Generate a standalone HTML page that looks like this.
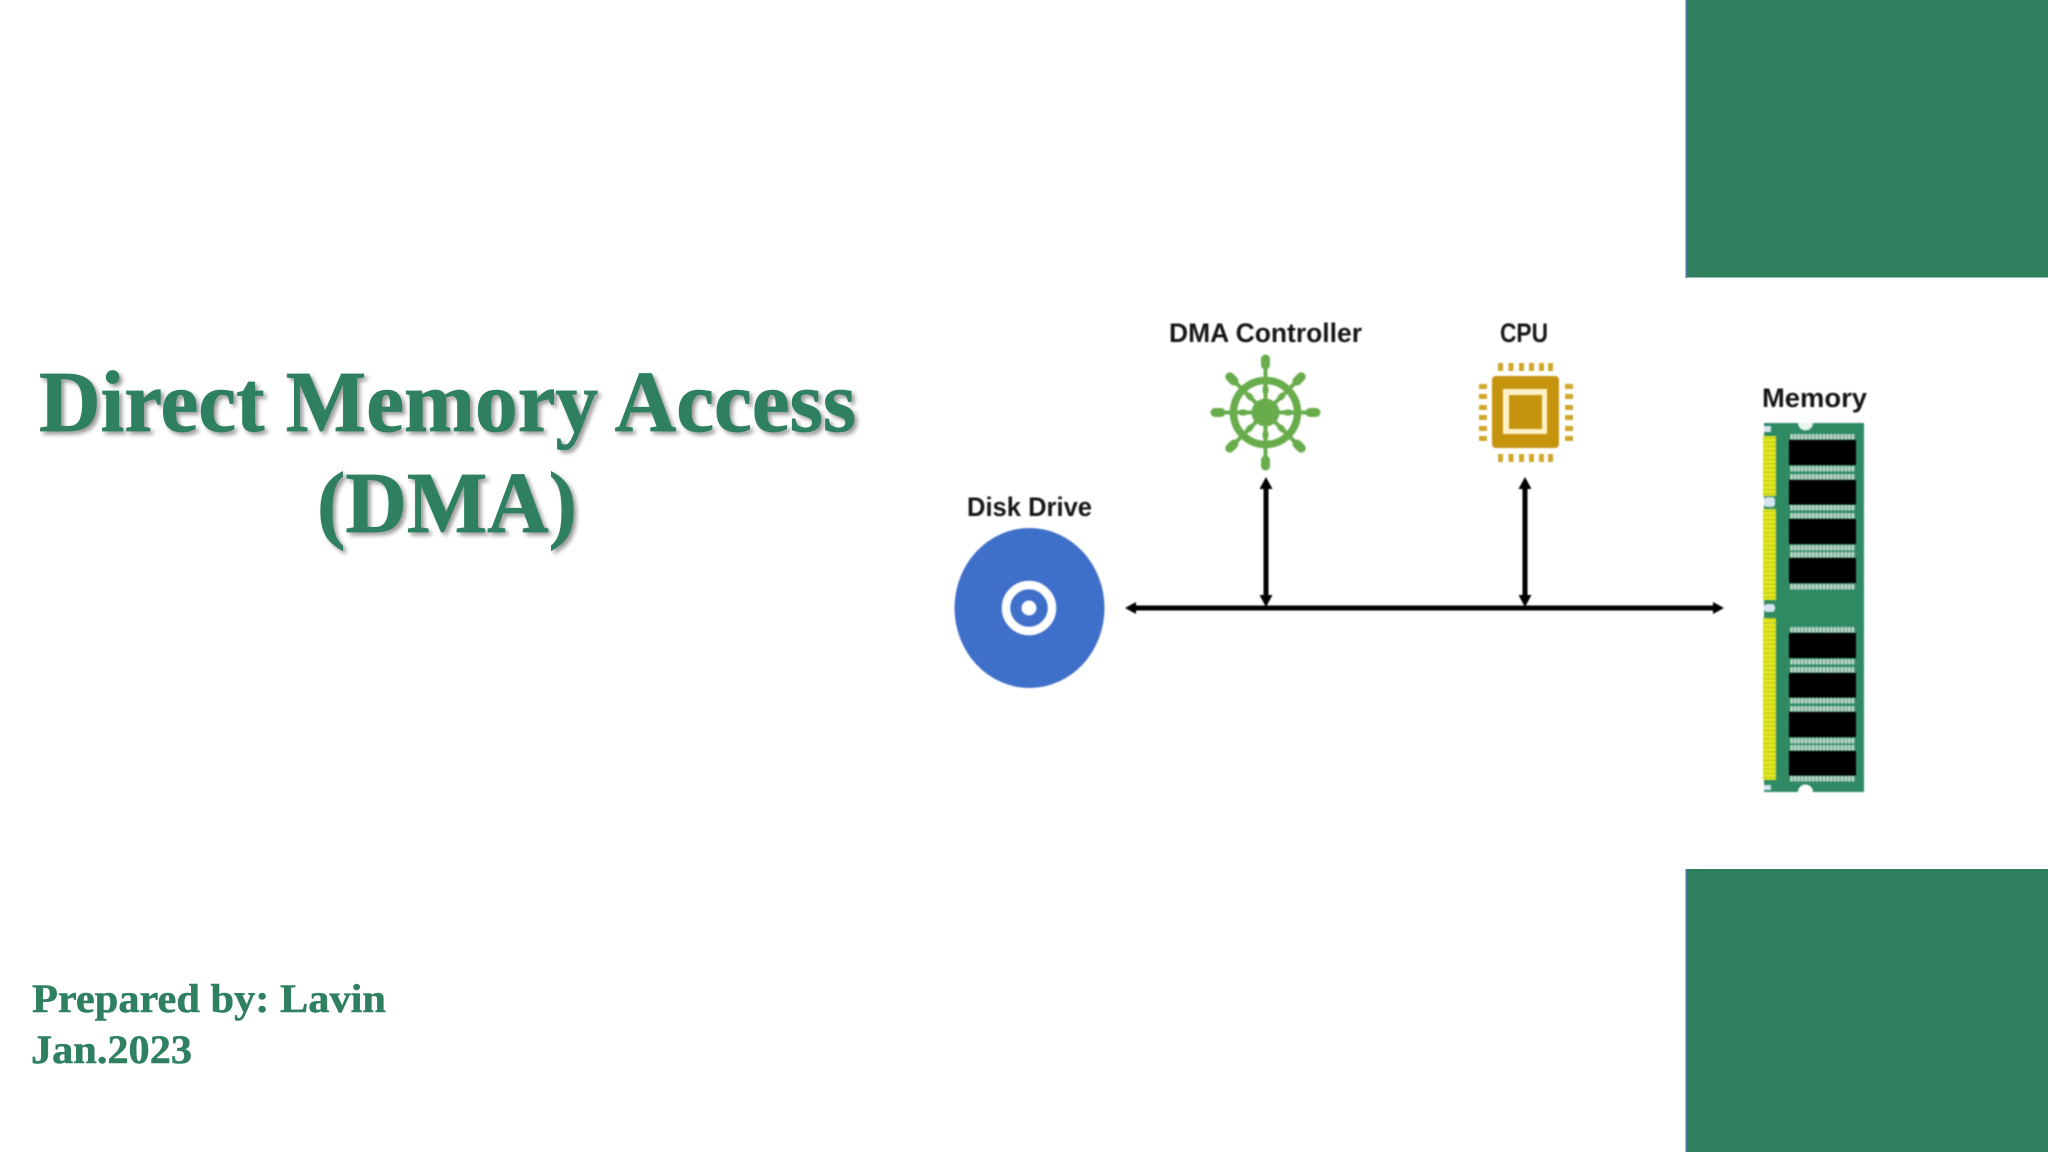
<!DOCTYPE html>
<html><head><meta charset="utf-8"><style>
html,body{margin:0;padding:0;background:#fff;width:2048px;height:1152px;overflow:hidden}
svg{display:block;position:absolute;left:0;top:0}
.t{font-family:"Liberation Serif",serif;font-weight:700;fill:#2e8061}
.b{stroke:#2e8061;stroke-width:.8px}
.l{font-family:"Liberation Sans",sans-serif;font-weight:700;fill:#161616;font-size:27px}
.shadow{filter:drop-shadow(3px 3px 2px rgba(0,0,0,.4))}
.soft{filter:blur(.7px)}
</style></head><body>
<svg width="2048" height="1152" viewBox="0 0 2048 1152" xmlns="http://www.w3.org/2000/svg">
<rect x="1686" y="0" width="362" height="277.5" fill="#2e8060"/>
<rect x="1686" y="869" width="362" height="283" fill="#2e8060"/>
<rect x="1685.5" y="0" width="1.5" height="278" fill="#4d7a99"/>
<rect x="1685.5" y="869" width="1.5" height="283" fill="#4d7a99"/>

<g class="shadow">
<text class="t b" x="39" y="431" font-size="87" textLength="817" lengthAdjust="spacingAndGlyphs">Direct Memory Access</text>
<text class="t b" x="317" y="532" font-size="87" textLength="260" lengthAdjust="spacingAndGlyphs">(DMA)</text>
</g>
<text class="t" x="32" y="1012" font-size="40" stroke="#2e8061" stroke-width=".5" textLength="354" lengthAdjust="spacingAndGlyphs">Prepared by: Lavin</text>
<text class="t" x="31" y="1063" font-size="40" stroke="#2e8061" stroke-width=".5" textLength="161" lengthAdjust="spacingAndGlyphs">Jan.2023</text>

<g class="soft">
<text class="l" x="1169" y="342" textLength="193" lengthAdjust="spacingAndGlyphs">DMA Controller</text>
<text class="l" x="1500" y="342" textLength="48" lengthAdjust="spacingAndGlyphs">CPU</text>
<text class="l" x="967" y="516" textLength="125" lengthAdjust="spacingAndGlyphs">Disk Drive</text>
<text class="l" x="1762" y="407" textLength="105" lengthAdjust="spacingAndGlyphs">Memory</text>

<!-- disk -->
<ellipse cx="1029.5" cy="608" rx="75" ry="80" fill="#3e6fc9"/>
<circle cx="1029" cy="608" r="23" fill="none" stroke="#fff" stroke-width="8.500"/>
<circle cx="1029" cy="608" r="7.500" fill="#fff"/>

<!-- bus -->
<g fill="#000" stroke="none">
<rect x="1130" y="605.500" width="588" height="5"/>
<path d="M1125 608l11-6v12z"/>
<path d="M1724 608l-11-6v12z"/>
<rect x="1263.500" y="485" width="5" height="118"/>
<path d="M1266 477l6.500 12h-13z"/>
<path d="M1266 607l6.500-12h-13z"/>
<rect x="1522.500" y="485" width="5" height="118"/>
<path d="M1525 477l6.500 12h-13z"/>
<path d="M1525 607l6.500-12h-13z"/>
</g>

<!-- wheel -->
<g transform="translate(1265.5 412.5)" fill="#68ac4c" stroke="#68ac4c">
<circle r="32" fill="none" stroke-width="7.500"/>
<circle r="14" stroke="none"/>
<g><line x1="0" y1="-12" x2="0" y2="-50" stroke-width="4"/><rect x="-4.500" y="-58" width="9" height="15" rx="4.500" stroke="none"/><rect x="-3" y="-27" width="6" height="9" rx="3" stroke="none"/></g>
<g transform="rotate(45)"><line x1="0" y1="-12" x2="0" y2="-50" stroke-width="4"/><rect x="-4.500" y="-55" width="9" height="15" rx="4.500" stroke="none"/><rect x="-3" y="-27" width="6" height="9" rx="3" stroke="none"/></g>
<g transform="rotate(90)"><line x1="0" y1="-12" x2="0" y2="-50" stroke-width="4"/><rect x="-4.500" y="-55" width="9" height="15" rx="4.500" stroke="none"/><rect x="-3" y="-27" width="6" height="9" rx="3" stroke="none"/></g>
<g transform="rotate(135)"><line x1="0" y1="-12" x2="0" y2="-50" stroke-width="4"/><rect x="-4.500" y="-55" width="9" height="15" rx="4.500" stroke="none"/><rect x="-3" y="-27" width="6" height="9" rx="3" stroke="none"/></g>
<g transform="rotate(180)"><line x1="0" y1="-12" x2="0" y2="-50" stroke-width="4"/><rect x="-4.500" y="-58" width="9" height="15" rx="4.500" stroke="none"/><rect x="-3" y="-27" width="6" height="9" rx="3" stroke="none"/></g>
<g transform="rotate(225)"><line x1="0" y1="-12" x2="0" y2="-50" stroke-width="4"/><rect x="-4.500" y="-55" width="9" height="15" rx="4.500" stroke="none"/><rect x="-3" y="-27" width="6" height="9" rx="3" stroke="none"/></g>
<g transform="rotate(270)"><line x1="0" y1="-12" x2="0" y2="-50" stroke-width="4"/><rect x="-4.500" y="-55" width="9" height="15" rx="4.500" stroke="none"/><rect x="-3" y="-27" width="6" height="9" rx="3" stroke="none"/></g>
<g transform="rotate(315)"><line x1="0" y1="-12" x2="0" y2="-50" stroke-width="4"/><rect x="-4.500" y="-55" width="9" height="15" rx="4.500" stroke="none"/><rect x="-3" y="-27" width="6" height="9" rx="3" stroke="none"/></g>
</g>

<!-- cpu -->
<rect x="1492" y="376" width="67" height="72" rx="4" fill="#c6930f"/>
<rect x="1503" y="389" width="44" height="45" fill="#fdf3c8"/>
<rect x="1509" y="395" width="33" height="34" fill="#c6930f"/>
<g fill="#cfa72a">
<rect x="1498" y="363" width="5" height="8"/><rect x="1508.500" y="363" width="5" height="8"/><rect x="1519" y="363" width="5" height="8"/><rect x="1529" y="363" width="5" height="8"/><rect x="1539" y="363" width="5" height="8"/><rect x="1548" y="363" width="5" height="8"/>
<rect x="1498" y="454" width="5" height="8"/><rect x="1508.500" y="454" width="5" height="8"/><rect x="1519" y="454" width="5" height="8"/><rect x="1529" y="454" width="5" height="8"/><rect x="1539" y="454" width="5" height="8"/><rect x="1548" y="454" width="5" height="8"/>
<rect x="1479" y="384" width="8" height="5"/><rect x="1479" y="394" width="8" height="5"/><rect x="1479" y="405" width="8" height="5"/><rect x="1479" y="415" width="8" height="5"/><rect x="1479" y="426" width="8" height="5"/><rect x="1479" y="436" width="8" height="5"/>
<rect x="1565" y="384" width="8" height="5"/><rect x="1565" y="394" width="8" height="5"/><rect x="1565" y="405" width="8" height="5"/><rect x="1565" y="415" width="8" height="5"/><rect x="1565" y="426" width="8" height="5"/><rect x="1565" y="436" width="8" height="5"/>
</g>

<!-- memory -->
<rect x="1764" y="423" width="100" height="369" fill="#2f8a64"/>
<path d="M1798 423a7.500 7.500 0 0 0 15 0z" fill="#e9f3ee"/>
<path d="M1798 792a7.500 7.500 0 0 1 15 0z" fill="#fff"/>
<rect x="1764" y="426" width="7" height="6" fill="#d5e4ee"/>
<rect x="1764" y="497" width="11" height="10" rx="3" fill="#d5e4ee"/>
<rect x="1764" y="604" width="11" height="8" rx="3" fill="#d5e4ee"/>
<rect x="1764" y="785" width="7" height="5" fill="#d5e4ee"/>
<defs>
<pattern id="gold" width="13" height="4.300" patternUnits="userSpaceOnUse"><rect width="13" height="4.300" fill="#b5c92a"/><rect width="13" height="3.100" fill="#e6e81c"/></pattern>
<pattern id="pin" width="3.600" height="6" patternUnits="userSpaceOnUse"><rect width="3.600" height="6" fill="#c3dacb"/><rect width="1.200" height="6" fill="#5c9e80"/></pattern>
</defs>
<g fill="url(#gold)">
<rect x="1763" y="436" width="13" height="60"/>
<rect x="1763" y="509" width="13" height="91"/>
<rect x="1763" y="618" width="13" height="162"/>
</g>
<g fill="url(#pin)">
<rect x="1790" y="434" width="65" height="5.500"/><rect x="1790" y="466" width="65" height="5.500"/><rect x="1790" y="474" width="65" height="5.500"/><rect x="1790" y="505" width="65" height="5.500"/><rect x="1790" y="513" width="65" height="5.500"/><rect x="1790" y="545" width="65" height="5.500"/><rect x="1790" y="552" width="65" height="5.500"/><rect x="1790" y="584" width="65" height="5.500"/>
<rect x="1790" y="627" width="65" height="5.500"/><rect x="1790" y="659" width="65" height="5.500"/><rect x="1790" y="667" width="65" height="5.500"/><rect x="1790" y="698" width="65" height="5.500"/><rect x="1790" y="706" width="65" height="5.500"/><rect x="1790" y="738" width="65" height="5.500"/><rect x="1790" y="745" width="65" height="5.500"/><rect x="1790" y="776" width="65" height="5.500"/>
</g>
<g fill="#000">
<rect x="1789" y="440" width="67" height="25"/><rect x="1789" y="480" width="67" height="24.500"/><rect x="1789" y="519" width="67" height="25"/><rect x="1789" y="558" width="67" height="25"/>
<rect x="1789" y="633" width="67" height="25"/><rect x="1789" y="673" width="67" height="24.500"/><rect x="1789" y="712" width="67" height="25"/><rect x="1789" y="751" width="67" height="24.500"/>
</g>
</g>
</svg>
</body></html>
